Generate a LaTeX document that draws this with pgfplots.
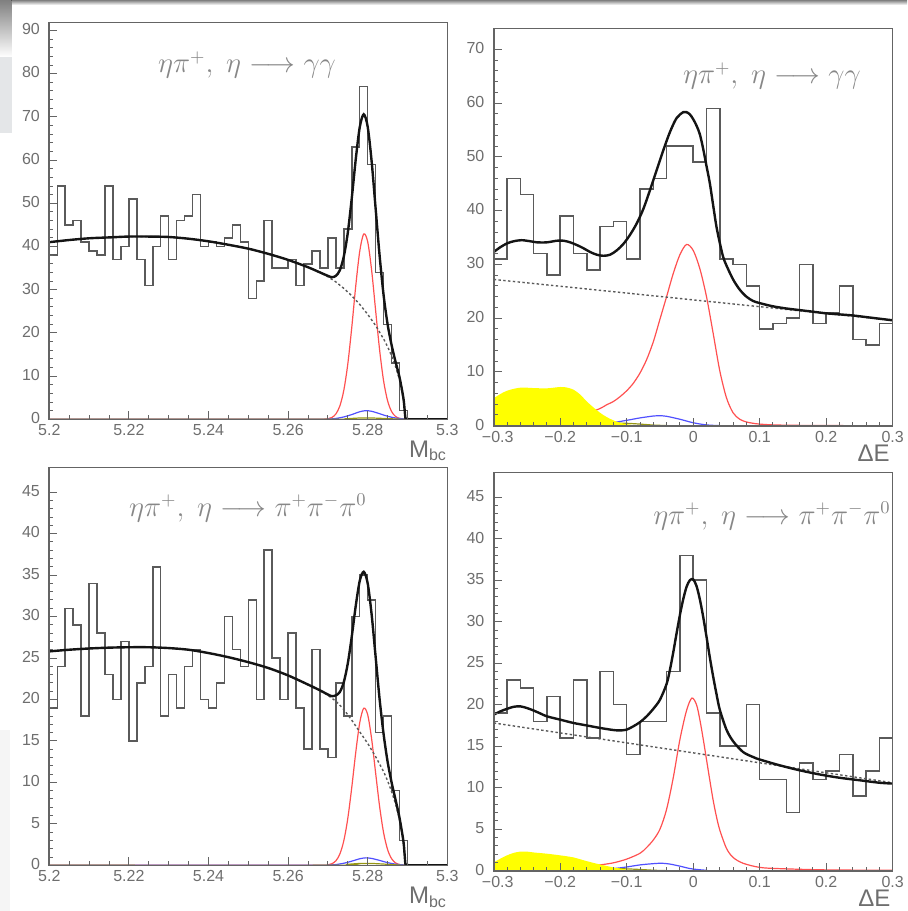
\documentclass[border=0pt]{standalone}
\usepackage{fontspec}
\setmainfont{Liberation Sans}
\usepackage{pgfplots}
\pgfplotsset{compat=1.18}
\definecolor{framec}{RGB}{100,100,100}
\definecolor{histc}{RGB}{90,90,90}
\definecolor{fitc}{RGB}{20,20,20}
\definecolor{bgc}{RGB}{90,90,90}
\definecolor{sigc}{RGB}{255,80,80}
\definecolor{bluec}{RGB}{80,80,255}
\definecolor{olivec}{RGB}{150,150,20}
\definecolor{yel}{RGB}{255,255,0}
\definecolor{txtc}{RGB}{110,110,110}
\definecolor{titc}{RGB}{135,135,135}
\definecolor{shade}{RGB}{218,220,222}
\definecolor{shadeb}{RGB}{228,230,232}
\definecolor{faint}{RGB}{245,245,245}
\tikzset{ttl/.style={text=titc, font=\fontsize{13.5}{16}\selectfont}}
\pgfplotsset{
  rootpanel/.style={
    scale only axis, axis on top, clip=true,
    axis line style={framec, line width=0.8pt},
    tick align=inside, tick pos=left,
    major tick length=4pt, minor tick length=2pt,
    every tick/.style={framec, line width=0.5pt},
    /pgf/number format/assume math mode=true,
    tick label style={font=\fontsize{8}{9}\selectfont, text=txtc, inner sep=0pt},
    xticklabel style={yshift=-2.5pt},
    yticklabel style={xshift=-4.5pt, yshift=0.6pt},
    xlabel style={at={(axis description cs:1,0)}, anchor=north east, inner sep=0pt,
      font=\fontsize{12}{14}\selectfont, text=txtc},
    ymin=0,
  },
  mbc/.style={rootpanel, xmin=5.2, xmax=5.3,
    xtick={5.2,5.22,5.24,5.26,5.28,5.3},
    xticklabels={5.2,5.22,5.24,5.26,5.28,5.3},
    minor x tick num=3, minor y tick num=4,
    xlabel={M\textsubscript{bc}}},
  de/.style={rootpanel, xmin=-0.3, xmax=0.3,
    xtick={-0.3,-0.2,-0.1,0,0.1,0.2,0.3},
    xticklabels={\hspace{4pt}−0.3,−0.2,−0.1,0,0.1,0.2,0.3},
    minor x tick num=4, minor y tick num=4,
    xlabel={ΔE}},
  hist/.style={const plot mark left, histc, line width=0.75pt, no marks},
  fit/.style={fitc, line width=1.2pt, smooth, no marks},
  bgl/.style={bgc, line width=0.7pt, dash pattern=on 1.2pt off 1.2pt, no marks},
  sig/.style={sigc, line width=0.6pt, smooth, no marks},
  blu/.style={bluec, line width=0.6pt, smooth, no marks},
  oli/.style={olivec, line width=0.6pt, smooth, no marks},
}
\begin{document}
\begin{tikzpicture}
\fill[shade] (0pt,0pt) rectangle (453.5pt,-2.5pt);
\fill[shade] (0pt,0pt) rectangle (5.8pt,-28.5pt);
\fill[shadeb] (0pt,-28.5pt) rectangle (5.8pt,-66.5pt);
\fill[faint] (0pt,-365pt) rectangle (5pt,-455.5pt);
\useasboundingbox (0pt,0pt) rectangle (453.5pt,-455.5pt);

% ---------------- Panel 1 : Mbc, eta -> gamma gamma
\begin{axis}[mbc, at={(24.65pt,-209.65pt)}, anchor=south west,
  width=199pt, height=198.3pt, ymax=91.8, ytick={0,10,...,90},
  xlabel style={yshift=-10.4pt}]
\addplot[hist] coordinates {(5.200,38)(5.202,54)(5.204,45)(5.206,46)(5.208,41)(5.210,39)(5.212,38)(5.214,54)(5.216,37)(5.218,40)(5.220,51)(5.222,37)(5.224,31)(5.226,40)(5.228,47)(5.230,37)(5.232,46)(5.234,47)(5.236,52)(5.238,40)(5.240,41)(5.242,40)(5.244,42)(5.246,45)(5.248,41)(5.250,28)(5.252,32)(5.254,46)(5.256,35)(5.258,35)(5.260,37)(5.262,31)(5.264,36)(5.266,39)(5.268,35)(5.270,42)(5.272,35)(5.274,44)(5.276,63)(5.278,77)(5.280,59)(5.282,34)(5.284,22)(5.286,13)(5.288,2)(5.290,0)(5.292,0)(5.294,0)(5.296,0)(5.298,0)(5.300,0)};
\addplot[sig] coordinates {(5.200,0)(5.266,0)(5.268,0.01)(5.269,0.03)(5.270,0.13)(5.271,0.43)(5.272,1.23)(5.273,3.08)(5.274,6.73)(5.275,12.8)(5.276,21.3)(5.277,30.9)(5.278,38.9)(5.279,42.9)(5.280,41.1)(5.281,34.4)(5.282,25.1)(5.283,16.0)(5.284,8.86)(5.285,4.28)(5.286,1.80)(5.287,0.66)(5.288,0.21)(5.289,0.06)(5.290,0.01)(5.292,0)(5.300,0)};
\addplot[blu] coordinates {(5.200,0)(5.268,0)(5.270,0.05)(5.272,0.2)(5.274,0.55)(5.276,1.1)(5.278,1.75)(5.2795,2.0)(5.281,1.85)(5.283,1.3)(5.285,0.7)(5.287,0.3)(5.289,0.1)(5.291,0.02)(5.293,0)(5.300,0)};
\addplot[oli] coordinates {(5.200,0)(5.272,0)(5.275,0.15)(5.278,0.3)(5.281,0.3)(5.284,0.2)(5.287,0.08)(5.290,0)(5.300,0)};
\addplot[bgl] coordinates {(5.200,41.0)(5.205,41.5)(5.210,41.9)(5.215,42.1)(5.220,42.3)(5.225,42.3)(5.230,42.2)(5.235,41.8)(5.240,41.2)(5.245,40.4)(5.250,39.5)(5.255,38.3)(5.260,36.9)(5.265,35.2)(5.268,34.0)(5.270,33.0)(5.272,31.8)(5.274,30.3)(5.276,28.6)(5.278,26.6)(5.280,24.3)(5.282,21.7)(5.284,18.6)(5.285,16.8)(5.286,14.7)(5.287,12.2)(5.288,9.2)(5.289,4.5)(5.2895,0)};
\addplot[fit] coordinates {(5.200,41.0)(5.205,41.5)(5.210,41.9)(5.215,42.1)(5.220,42.3)(5.225,42.3)(5.230,42.2)(5.235,41.8)(5.240,41.2)(5.245,40.4)(5.250,39.5)(5.255,38.3)(5.260,36.9)(5.265,35.2)(5.268,34.0)(5.269,33.6)(5.270,33.2)(5.271,32.9)(5.272,33.2)(5.273,34.5)(5.274,37.7)(5.275,43.2)(5.276,51.2)(5.277,60.2)(5.278,67.6)(5.279,70.6)(5.280,67.7)(5.281,59.6)(5.282,48.7)(5.283,37.8)(5.284,28.7)(5.285,22.0)(5.286,17.2)(5.287,13.3)(5.288,9.7)(5.289,4.7)(5.2895,0.2)(5.290,0.1)(5.291,0)(5.300,0)};
\node[ttl] at (rel axis cs:0.497,0.893) {$\eta\pi^{+},\;\eta \longrightarrow \gamma\gamma$};
\end{axis}

% ---------------- Panel 2 : DeltaE, eta -> gamma gamma
\begin{axis}[de, at={(246.85pt,-212.85pt)}, anchor=south west,
  width=199.5pt, height=198.7pt, ymax=73.9, ytick={0,10,...,70},
  yticklabels={0\hspace{2pt},10,20,30,40,50,60,70},
  xlabel style={xshift=-1.35pt, yshift=-9.65pt}]
\addplot[hist] coordinates {(-0.30,31)(-0.28,46)(-0.26,43)(-0.24,32)(-0.22,28)(-0.20,39)(-0.18,32)(-0.16,29)(-0.14,37)(-0.12,38)(-0.10,31)(-0.08,44)(-0.06,46)(-0.04,52)(-0.02,52)(0.00,49)(0.02,59)(0.04,31)(0.06,30)(0.08,26)(0.10,18)(0.12,19)(0.14,20)(0.16,30)(0.18,19)(0.20,21)(0.22,26)(0.24,16)(0.26,15)(0.28,19)(0.30,19)};
\addplot[sig] coordinates {(-0.30,0.5)(-0.26,0.7)(-0.22,1.0)(-0.20,1.3)(-0.18,1.7)(-0.16,2.3)(-0.14,3.2)(-0.13,3.9)(-0.12,4.5)(-0.11,5.4)(-0.10,6.5)(-0.09,7.9)(-0.08,9.8)(-0.07,12.3)(-0.06,15.6)(-0.05,19.8)(-0.04,24.0)(-0.03,28.3)(-0.02,31.8)(-0.01,33.7)(0.00,32.6)(0.01,29.2)(0.02,24.0)(0.03,17.2)(0.04,10.2)(0.05,5.2)(0.06,2.4)(0.07,1.2)(0.08,0.7)(0.09,0.45)(0.10,0.3)(0.12,0.15)(0.15,0.08)(0.20,0.03)(0.30,0)};
\addplot[blu] coordinates {(-0.30,0)(-0.20,0)(-0.18,0.05)(-0.15,0.2)(-0.12,0.6)(-0.10,1.0)(-0.08,1.45)(-0.06,1.8)(-0.05,1.85)(-0.04,1.75)(-0.02,1.2)(0.00,0.55)(0.02,0.15)(0.04,0.02)(0.06,0)(0.30,0)};
\addplot[oli] coordinates {(-0.30,0.3)(-0.20,0.4)(-0.15,0.5)(-0.12,0.5)(-0.10,0.45)(-0.08,0.3)(-0.06,0.12)(-0.04,0.03)(-0.02,0)(0.30,0)};
\addplot[fill=yel, draw=none, smooth] coordinates {(-0.300,5.1)(-0.290,5.9)(-0.280,6.5)(-0.270,6.85)(-0.258,7.1)(-0.240,7.0)(-0.220,6.95)(-0.200,7.2)(-0.190,7.1)(-0.180,6.7)(-0.170,5.8)(-0.160,4.5)(-0.150,3.4)(-0.140,2.4)(-0.130,1.6)(-0.120,1.0)(-0.110,0.55)(-0.100,0.3)(-0.090,0.12)(-0.080,0.05)(-0.065,0)} \closedcycle;
\addplot[bgl] coordinates {(-0.3,27.2)(0,23.4)(0.3,19.6)};
\addplot[fit] coordinates {(-0.300,32.3)(-0.290,33.2)(-0.280,33.9)(-0.270,34.3)(-0.258,34.5)(-0.245,34.3)(-0.235,34.1)(-0.220,34.1)(-0.205,34.4)(-0.195,34.4)(-0.185,34.1)(-0.175,33.6)(-0.165,33.0)(-0.155,32.3)(-0.145,31.8)(-0.135,31.6)(-0.125,31.8)(-0.115,32.6)(-0.105,33.8)(-0.095,35.5)(-0.085,37.6)(-0.075,40.3)(-0.065,43.8)(-0.055,47.5)(-0.045,51.2)(-0.035,54.6)(-0.025,57.2)(-0.015,58.3)(-0.010,58.3)(-0.005,57.9)(0.000,57.0)(0.005,55.8)(0.010,54.2)(0.015,51.5)(0.020,48.3)(0.025,45.1)(0.030,41.0)(0.035,37.0)(0.040,34.0)(0.045,31.4)(0.050,29.8)(0.060,27.2)(0.070,25.3)(0.080,24.0)(0.090,23.2)(0.100,22.8)(0.120,22.2)(0.140,21.8)(0.160,21.5)(0.180,21.2)(0.200,20.9)(0.220,20.7)(0.240,20.5)(0.260,20.2)(0.280,19.9)(0.300,19.6)};
\node[ttl] at (rel axis cs:0.6975,0.880) {$\eta\pi^{+},\;\eta \longrightarrow \gamma\gamma$};
\end{axis}

% ---------------- Panel 3 : Mbc, eta -> 3pi
\begin{axis}[mbc, at={(24.65pt,-432.65pt)}, anchor=south west,
  width=199pt, height=199pt, ymax=48, ytick={0,5,...,45},
  xlabel style={yshift=-10.85pt}]
\addplot[hist] coordinates {(5.200,19)(5.202,24)(5.204,31)(5.206,29)(5.208,18)(5.210,34)(5.212,28)(5.214,23)(5.216,20)(5.218,27)(5.220,15)(5.222,22)(5.224,24)(5.226,36)(5.228,18)(5.230,23)(5.232,19)(5.234,24)(5.236,26)(5.238,20)(5.240,19)(5.242,22)(5.244,30)(5.246,26)(5.248,24)(5.250,32)(5.252,20)(5.254,38)(5.256,25)(5.258,20)(5.260,28)(5.262,19)(5.264,14)(5.266,26)(5.268,14)(5.270,13)(5.272,22)(5.274,18)(5.276,30)(5.278,35)(5.280,32)(5.282,16)(5.284,18)(5.286,9)(5.288,3)(5.290,0)(5.292,0)(5.294,0)(5.296,0)(5.298,0)(5.300,0)};
\addplot[sig] coordinates {(5.200,0)(5.268,0)(5.270,0.06)(5.271,0.19)(5.272,0.54)(5.273,1.36)(5.274,2.97)(5.275,5.66)(5.276,9.41)(5.277,13.63)(5.278,17.2)(5.279,18.95)(5.280,18.16)(5.281,15.2)(5.282,11.1)(5.283,7.07)(5.284,3.91)(5.285,1.89)(5.286,0.8)(5.287,0.29)(5.288,0.09)(5.289,0.03)(5.291,0)(5.300,0)};
\addplot[blu] coordinates {(5.200,0)(5.268,0)(5.270,0.02)(5.272,0.09)(5.274,0.25)(5.276,0.5)(5.278,0.79)(5.2795,0.9)(5.281,0.83)(5.283,0.59)(5.285,0.32)(5.287,0.14)(5.289,0.05)(5.291,0.01)(5.293,0)(5.300,0)};
\addplot[oli] coordinates {(5.200,0)(5.272,0)(5.275,0.12)(5.278,0.22)(5.281,0.22)(5.284,0.15)(5.287,0.06)(5.290,0)(5.300,0)};
\addplot[bgl] coordinates {(5.200,25.8)(5.205,26.0)(5.210,26.15)(5.215,26.25)(5.220,26.3)(5.225,26.3)(5.230,26.2)(5.235,26.0)(5.240,25.6)(5.245,25.1)(5.250,24.5)(5.255,23.8)(5.260,22.9)(5.265,21.8)(5.268,21.1)(5.270,20.5)(5.272,19.8)(5.274,18.8)(5.276,17.5)(5.278,16.1)(5.280,14.7)(5.282,13.1)(5.284,11.3)(5.285,10.2)(5.286,8.9)(5.287,7.4)(5.288,5.5)(5.289,2.7)(5.2895,0)};
\addplot[fit] coordinates {(5.200,25.8)(5.205,26.0)(5.210,26.15)(5.215,26.25)(5.220,26.3)(5.225,26.3)(5.230,26.2)(5.235,26.0)(5.240,25.6)(5.245,25.1)(5.250,24.5)(5.255,23.8)(5.260,22.9)(5.265,21.8)(5.268,21.1)(5.270,20.6)(5.271,20.4)(5.272,20.5)(5.273,20.9)(5.274,22.1)(5.275,24.35)(5.276,27.6)(5.277,31.3)(5.278,34.3)(5.279,35.4)(5.280,34.0)(5.281,30.2)(5.282,25.1)(5.283,20.0)(5.284,15.8)(5.285,12.5)(5.286,10.0)(5.287,7.9)(5.288,5.7)(5.289,2.8)(5.2895,0.1)(5.290,0.05)(5.291,0)(5.300,0)};
\node[ttl] at (rel axis cs:0.499,0.898) {$\eta\pi^{+},\;\eta \longrightarrow \pi^{+}\pi^{-}\pi^{0}$};
\end{axis}

% ---------------- Panel 4 : DeltaE, eta -> 3pi
\begin{axis}[de, at={(246.85pt,-435.35pt)}, anchor=south west,
  width=199.5pt, height=199.2pt, ymax=48, ytick={0,5,...,45},
  yticklabels={0\hspace{2pt},5,10,15,20,25,30,35,40,45},
  xlabel style={xshift=-1pt, yshift=-9.65pt}]
\addplot[hist] coordinates {(-0.30,19)(-0.28,23)(-0.26,22)(-0.24,18)(-0.22,21)(-0.20,16)(-0.18,23)(-0.16,16)(-0.14,24)(-0.12,20)(-0.10,14)(-0.08,18)(-0.06,18)(-0.04,24)(-0.02,38)(0.00,35)(0.02,19)(0.04,15)(0.06,15)(0.08,20)(0.10,11)(0.12,11)(0.14,7)(0.16,13)(0.18,11)(0.20,12)(0.22,14)(0.24,9)(0.26,12)(0.28,16)(0.30,16)};
\addplot[sig] coordinates {(-0.30,0.1)(-0.25,0.2)(-0.20,0.3)(-0.16,0.5)(-0.14,0.7)(-0.12,0.95)(-0.10,1.4)(-0.08,2.1)(-0.07,2.8)(-0.06,3.7)(-0.05,5.0)(-0.04,7.4)(-0.03,11.2)(-0.02,15.8)(-0.01,19.3)(-0.002,20.8)(0.005,20.0)(0.010,18.2)(0.015,15.9)(0.020,13.4)(0.025,10.9)(0.030,8.5)(0.035,6.5)(0.040,4.9)(0.050,2.7)(0.060,1.6)(0.075,0.9)(0.10,0.4)(0.13,0.25)(0.20,0.1)(0.30,0.05)};
\addplot[blu] coordinates {(-0.30,0)(-0.18,0)(-0.16,0.05)(-0.14,0.1)(-0.12,0.25)(-0.10,0.45)(-0.08,0.7)(-0.06,0.85)(-0.047,0.9)(-0.035,0.8)(-0.02,0.55)(-0.01,0.35)(0.00,0.2)(0.02,0.05)(0.04,0)(0.30,0)};
\addplot[oli] coordinates {(-0.30,0.15)(-0.20,0.2)(-0.15,0.25)(-0.12,0.25)(-0.10,0.22)(-0.08,0.15)(-0.06,0.06)(-0.04,0.01)(-0.02,0)(0.30,0)};
\addplot[fill=yel, draw=none, smooth] coordinates {(-0.300,1.0)(-0.290,1.45)(-0.280,1.85)(-0.270,2.15)(-0.260,2.3)(-0.250,2.3)(-0.240,2.2)(-0.220,2.05)(-0.200,1.85)(-0.180,1.6)(-0.160,1.15)(-0.140,0.75)(-0.120,0.4)(-0.100,0.15)(-0.090,0.05)(-0.080,0)} \closedcycle;
\addplot[bgl] coordinates {(-0.3,17.8)(0,14.2)(0.3,10.6)};
\addplot[fit] coordinates {(-0.300,18.8)(-0.290,19.2)(-0.280,19.5)(-0.270,19.75)(-0.260,19.8)(-0.250,19.6)(-0.240,19.3)(-0.230,18.95)(-0.220,18.6)(-0.200,18.2)(-0.180,17.8)(-0.160,17.5)(-0.140,17.2)(-0.120,16.95)(-0.110,16.9)(-0.100,17.0)(-0.090,17.4)(-0.080,17.9)(-0.070,18.6)(-0.060,19.5)(-0.050,20.6)(-0.040,22.5)(-0.035,24.2)(-0.030,26.3)(-0.025,28.6)(-0.020,30.8)(-0.015,32.7)(-0.010,34.2)(-0.005,35.0)(0.000,35.1)(0.005,34.3)(0.010,32.7)(0.015,30.6)(0.020,28.2)(0.025,25.7)(0.030,23.4)(0.035,21.3)(0.040,19.4)(0.050,17.0)(0.060,15.6)(0.075,14.3)(0.090,13.7)(0.100,13.4)(0.130,12.7)(0.160,12.1)(0.190,11.6)(0.220,11.2)(0.250,10.9)(0.280,10.6)(0.300,10.5)};
\node[ttl] at (rel axis cs:0.6975,0.890) {$\eta\pi^{+},\;\eta \longrightarrow \pi^{+}\pi^{-}\pi^{0}$};
\end{axis}
\end{tikzpicture}
\end{document}
